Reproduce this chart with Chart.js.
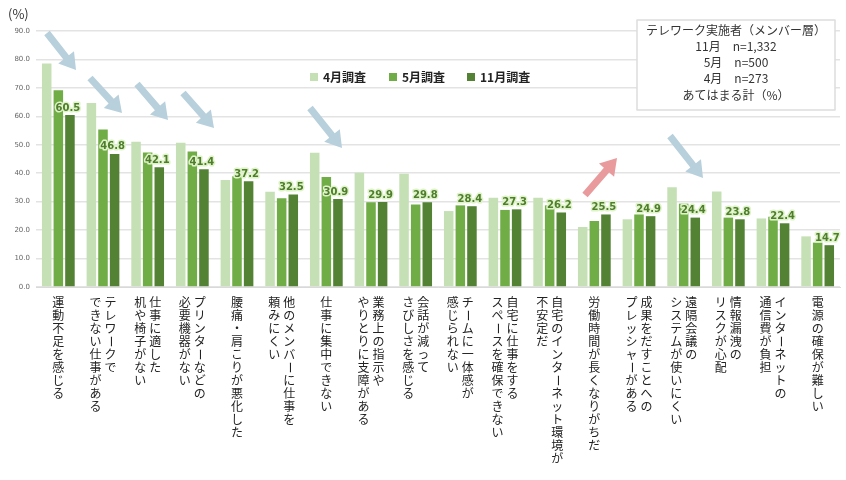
<!DOCTYPE html>
<html><head><meta charset="utf-8">
<script src="https://cdn.jsdelivr.net/npm/chart.js@4"></script>
<style>html,body{margin:0;padding:0;background:#fff}#wrap{width:846px;height:480px;position:relative}</style>
</head><body><div id="wrap"><canvas id="c" width="846" height="480"></canvas></div>
<script>
const categories = [
 ["運動不足を感じる"],["テレワークで","できない仕事がある"],["仕事に適した","机や椅子がない"],["プリンターなどの","必要機器がない"],
 ["腰痛・肩こりが悪化した"],["他のメンバーに仕事を","頼みにくい"],["仕事に集中できない"],["業務上の指示や","やりとりに支障がある"],
 ["会話が減って","さびしさを感じる"],["チームに一体感が","感じられない"],["自宅に仕事をする","スペースを確保できない"],["自宅のインターネット環境が","不安定だ"],
 ["労働時間が長くなりがちだ"],["成果をだすことへの","プレッシャーがある"],["遠隔会議の","システムが使いにくい"],["情報漏洩の","リスクが心配"],
 ["インターネットの","通信費が負担"],["電源の確保が難しい"]];
const seriesNames = ["4月調査","5月調査","11月調査"];
const aprValues = [78.6,64.7,51.1,50.7,37.6,33.5,47.2,40.2,39.8,26.7,31.4,31.4,21.1,23.8,35.1,33.6,24.1,17.8];
const mayValues = [69.2,55.4,47.3,47.6,38.9,31.2,38.7,29.8,29.0,28.7,27.1,28.7,23.2,25.5,29.3,24.4,24.7,15.6];
const novValues = [60.5,46.8,42.1,41.4,37.2,32.5,30.9,29.9,29.8,28.4,27.3,26.2,25.5,24.9,24.4,23.8,22.4,14.7];
const yTicks = [0,10,20,30,40,50,60,70,80,90];
const colors = ["#c5e0b4","#70ad47","#548235"];
const infoLines = ["テレワーク実施者（メンバー層）","11月　n=1,332","5月　n=500","4月　n=273","あてはまる計（%）"];

const deco = {
 id:'deco',
 afterDraw(chart){
  const ctx=chart.ctx, xs=chart.scales.x, ys=chart.scales.y;
  ctx.save();
  ctx.font='12px "Noto Sans CJK JP"'; ctx.fillStyle='#222'; ctx.textAlign='center'; ctx.textBaseline='top';
  categories.forEach((lines,i)=>{
   const cx=xs.getPixelForValue(i); const n=lines.length, gap=15;
   lines.forEach((ln,j)=>{
    const x=cx+((n-1)/2-j)*gap; let y=296;
    for(const ch of ln){
     if(ch==='ー'){ctx.save();ctx.translate(x,y+6.5);ctx.rotate(Math.PI/2);ctx.textBaseline='middle';ctx.fillText(ch,0,0);ctx.restore();}
     else ctx.fillText(ch,x,y);
     y+=13;
    }
   });
  });
  const meta=chart.getDatasetMeta(2);
  ctx.font='bold 10px "DejaVu Sans"'; ctx.textBaseline='bottom'; ctx.textAlign='center';
  ctx.lineJoin='round';
  meta.data.forEach((b,i)=>{
   const t=novValues[i].toFixed(1); const x=b.x-2, y=b.y-2;
   ctx.lineWidth=3; ctx.strokeStyle='#dff3c8'; ctx.strokeText(t,x,y);
   ctx.fillStyle='#4e7d2c'; ctx.fillText(t,x,y);
  });
  ctx.font='bold 12px "Noto Sans CJK JP"'; ctx.textAlign='left'; ctx.textBaseline='middle';
  const lx=[310,389,467];
  seriesNames.forEach((s,i)=>{ctx.fillStyle=colors[i];ctx.fillRect(lx[i],73,8,8);ctx.fillStyle='#222';ctx.fillText(s,lx[i]+13,77);});
  ctx.font='13px "Noto Sans CJK JP"'; ctx.fillStyle='#333'; ctx.fillText('(%)',8,14);
  ctx.fillStyle='#fff'; ctx.strokeStyle='#ddd'; ctx.lineWidth=1.5;
  ctx.fillRect(637,20,198,90); ctx.strokeRect(637,20,198,90);
  ctx.fillStyle='#333'; ctx.font='12px "Noto Sans CJK JP"'; ctx.textAlign='center';
  infoLines.forEach((l,i)=>ctx.fillText(l,736,30+i*16.3));
  const arrows=[[47,33,76,70,'#b7d0dc'],[90,78,122,113,'#b7d0dc'],[137,84,168,120,'#b7d0dc'],[183,93,214,128,'#b7d0dc'],[310,108,342,148,'#b7d0dc'],[585,195,617,158,'#e89a9c'],[670,136,703,178,'#b7d0dc']];
  arrows.forEach(([x1,y1,x2,y2,c])=>{
   const a=Math.atan2(y2-y1,x2-x1), L=Math.hypot(x2-x1,y2-y1);
   ctx.save();ctx.translate(x1,y1);ctx.rotate(a);ctx.fillStyle=c;
   ctx.beginPath();ctx.moveTo(0,-3.5);ctx.lineTo(L-16,-3.5);ctx.lineTo(L-16,-10);ctx.lineTo(L,0);ctx.lineTo(L-16,10);ctx.lineTo(L-16,3.5);ctx.lineTo(0,3.5);ctx.closePath();ctx.fill();
   ctx.restore();
  });
  ctx.restore();
 }
};

new Chart(document.getElementById('c'),{
 type:'bar',
 data:{labels:categories.map((c,i)=>i),datasets:[
  {label:seriesNames[0],data:aprValues,backgroundColor:colors[0]},
  {label:seriesNames[1],data:mayValues,backgroundColor:colors[1]},
  {label:seriesNames[2],data:novValues,backgroundColor:colors[2]}]},
 options:{responsive:false,animation:false,devicePixelRatio:1,
  layout:{padding:{left:0,right:6,top:31,bottom:0}},
  plugins:{legend:{display:false},tooltip:{enabled:false}},
  datasets:{bar:{categoryPercentage:0.78,barPercentage:0.82}},
  scales:{
   x:{grid:{display:false},border:{color:'#d9d9d9'},ticks:{display:false},afterFit(s){s.height=193;}},
   y:{min:0,max:90,afterBuildTicks(s){s.ticks=yTicks.map(v=>({value:v}));},
      grid:{color:'#e3e3e3',lineWidth:1.5,drawTicks:false},border:{display:false},
      ticks:{padding:6,color:'#666',font:{size:7,family:'DejaVu Sans'},callback:v=>Number(v).toFixed(1)},
      afterFit(s){s.width=36;}}
  }}
 ,plugins:[deco]});
</script>
</body></html>
